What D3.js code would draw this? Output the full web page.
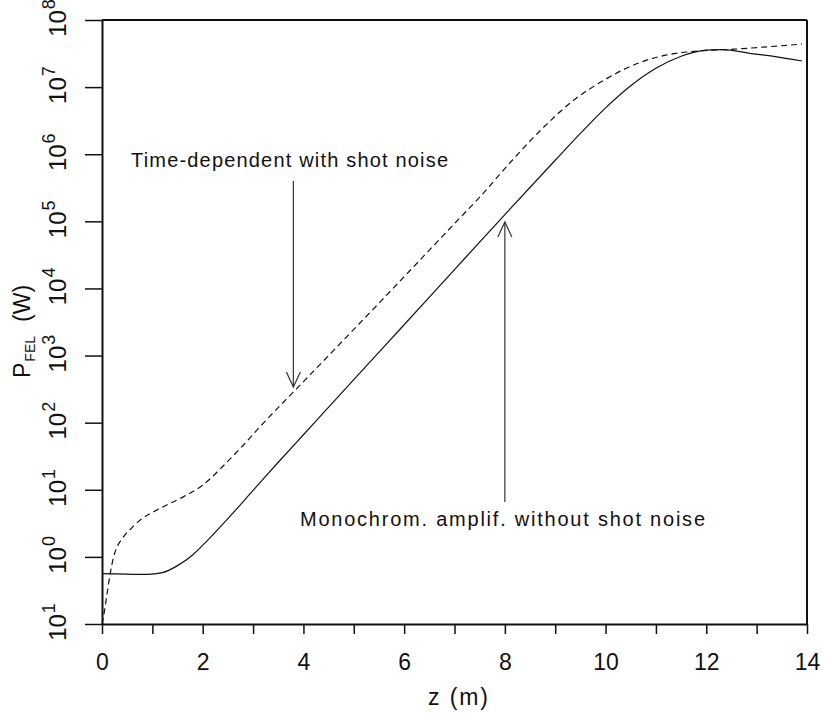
<!DOCTYPE html>
<html>
<head>
<meta charset="utf-8">
<script src="https://cdn.jsdelivr.net/npm/d3@7"></script>
<style>
  body { margin: 0; background: #fff; }
  text { font-family: "Liberation Sans", Arial, sans-serif; fill: #111; }
</style>
</head>
<body>
<div id="chart"></div>
<script>
// DATA
// monochromatic amplification, no shot noise (solid)
const zSolid = [0, 0.5, 0.9, 1.2, 1.5, 1.8, 2.1, 2.5, 3.0, 3.5, 4, 5, 6, 7, 8, 9, 9.5, 10, 10.5, 11, 11.5, 12, 12.3, 12.9, 13.4, 13.9];
const pSolid = [0.562, 0.552, 0.547, 0.582, 0.741, 1.07, 1.78, 3.72, 9.77, 25.7, 66.1, 437, 2880, 19100, 1.26e5, 8.13e5, 2.04e6, 4.9e6, 1.05e7, 1.91e7, 2.88e7, 3.55e7, 3.63e7, 3.16e7, 2.82e7, 2.45e7];
// time-dependent with shot noise (dashed)
const zDashed = [0, 0.03, 0.1, 0.165, 0.23, 0.3, 0.43, 0.6, 0.76, 1.09, 1.62, 2.0, 2.4, 2.8, 3.2, 3.87, 4.5, 5.5, 6.5, 7.12, 7.5, 8.04, 8.7, 9.36, 10.03, 10.69, 11.22, 11.88, 12.54, 13.2, 13.9];
const pDashed = [0.1, 0.129, 0.282, 0.575, 1.0, 1.41, 2.0, 2.75, 3.55, 5.0, 7.9, 11.7, 22.4, 45.7, 97.7, 324, 1000, 6030, 37200, 1.15e5, 2.29e5, 6.61e5, 2.24e6, 6.31e6, 1.35e7, 2.34e7, 3.02e7, 3.47e7, 3.67e7, 3.98e7, 4.37e7];

const xTickValues = [0, 1, 2, 3, 4, 5, 6, 7, 8, 9, 10, 11, 12, 13, 14];
const xTickLabels = ['0', '', '2', '', '4', '', '6', '', '8', '', '10', '', '12', '', '14'];
const yDecades = [1e-1, 1e0, 1e1, 1e2, 1e3, 1e4, 1e5, 1e6, 1e7, 1e8];
const yExpLabels = ['1', '0', '1', '2', '3', '4', '5', '6', '7', '8'];

// annotations: z of the arrow, P at its tip and at its tail
const noteTime = {text: 'Time-dependent with shot noise', z: 3.8, tip: 340, tail: 4.0e5};
const noteMono = {text: 'Monochrom. amplif. without shot noise', z: 8.0, tip: 9.8e4, tail: 6.6};

// CHART
const W = 826, H = 713;
const margin = {left: 102, top: 20, right: 19, bottom: 89};

const svg = d3.select('#chart').append('svg')
  .attr('width', W).attr('height', H);

const x = d3.scaleLinear().domain([0, 14]).range([margin.left, W - margin.right]);
const y = d3.scaleLog().domain([0.1, 1e8]).range([H - margin.bottom, margin.top]);

// minor ticks
const xMinor = d3.range(0, 14.001, 0.2).filter(v => Math.abs(v - Math.round(v)) > 1e-6);
let yMinor = [];
yDecades.slice(0, -1).forEach(d => { for (let k = 2; k <= 9; k++) yMinor.push(d * k); });

const gx = svg.append('g').attr('transform', 'translate(0,' + y(0.1) + ')');
gx.call(d3.axisBottom(x).tickValues(xMinor).tickSize(6).tickSizeOuter(0).tickFormat(''));
gx.call(d3.axisBottom(x).tickValues(xTickValues).tickSize(10).tickSizeOuter(0)
  .tickFormat((d, i) => xTickLabels[i]).tickPadding(20));

const gy = svg.append('g').attr('transform', 'translate(' + x(0) + ',0)');
gy.call(d3.axisLeft(y).tickValues(yMinor).tickSize(8).tickSizeOuter(0).tickFormat(''));
gy.call(d3.axisLeft(y).tickValues(yDecades).tickSize(17).tickSizeOuter(0).tickFormat(''));

svg.selectAll('.domain').attr('stroke', '#111').attr('stroke-width', 2);
svg.selectAll('.tick line').attr('stroke', '#111').attr('stroke-width', 1.5);
gx.selectAll('.tick text').attr('font-size', 23).attr('fill', '#111')
  .attr('font-family', '"Liberation Sans", Arial, sans-serif');

// frame top / right
svg.append('line').attr('x1', x(0)).attr('x2', x(14)).attr('y1', y(1e8)).attr('y2', y(1e8))
  .attr('stroke', '#111').attr('stroke-width', 2);
svg.append('line').attr('x1', x(14)).attr('x2', x(14)).attr('y1', y(1e8)).attr('y2', y(0.1))
  .attr('stroke', '#111').attr('stroke-width', 2);

// y tick labels, rotated, 10^n
const yl = svg.append('g').selectAll('text').data(yDecades).enter().append('text')
  .attr('transform', d => 'translate(66,' + (y(d) - 2) + ') rotate(-90)')
  .attr('text-anchor', 'middle').attr('font-size', 24);
yl.append('tspan').attr('font-size', 24).text('10');
yl.append('tspan').attr('font-size', 18).attr('dy', -11).attr('dx', 1).text((d, i) => yExpLabels[i]);

// axis titles
svg.append('text').attr('x', 428).attr('y', 705)
  .attr('font-size', 23).attr('textLength', 60).attr('lengthAdjust', 'spacing').text('z (m)');

const yt = svg.append('text')
  .attr('transform', 'translate(30,378) rotate(-90)')
  .attr('font-size', 22);
yt.append('tspan').attr('font-size', 23).text('P');
yt.append('tspan').attr('font-size', 14).attr('dy', 5).attr('dx', 1).text('FEL');
yt.append('tspan').attr('font-size', 23).attr('dy', -5).attr('dx', 14).text('(W)');

// curves
const line = d3.line().x(d => x(d[0])).y(d => y(d[1])).curve(d3.curveMonotoneX);

svg.append('path').datum(d3.zip(zSolid, pSolid))
  .attr('d', line).attr('fill', 'none').attr('stroke', '#111').attr('stroke-width', 1.2);
svg.append('path').datum(d3.zip(zDashed, pDashed))
  .attr('d', line).attr('fill', 'none').attr('stroke', '#111').attr('stroke-width', 1.2)
  .attr('stroke-dasharray', '6,4');

// arrows
function arrow(n) {
  const ax = x(n.z), y1 = y(n.tail), y2 = y(n.tip);
  const dir = y2 > y1 ? -1 : 1; // wings point back toward the tail
  svg.append('line').attr('x1', ax).attr('x2', ax).attr('y1', y1).attr('y2', y2)
    .attr('stroke', '#333').attr('stroke-width', 1.2);
  svg.append('path')
    .attr('d', 'M' + (ax - 7) + ',' + (y2 + dir * 15) + 'L' + ax + ',' + y2 + 'L' + (ax + 7) + ',' + (y2 + dir * 15))
    .attr('fill', 'none').attr('stroke', '#333').attr('stroke-width', 1.2);
}
arrow(noteTime);
arrow(noteMono);

svg.append('text').attr('x', 131).attr('y', 167).attr('font-size', 20)
  .attr('textLength', 317).attr('lengthAdjust', 'spacing').text(noteTime.text);
svg.append('text').attr('x', 300).attr('y', 526).attr('font-size', 20)
  .attr('textLength', 405).attr('lengthAdjust', 'spacing').text(noteMono.text);
</script>
</body>
</html>
